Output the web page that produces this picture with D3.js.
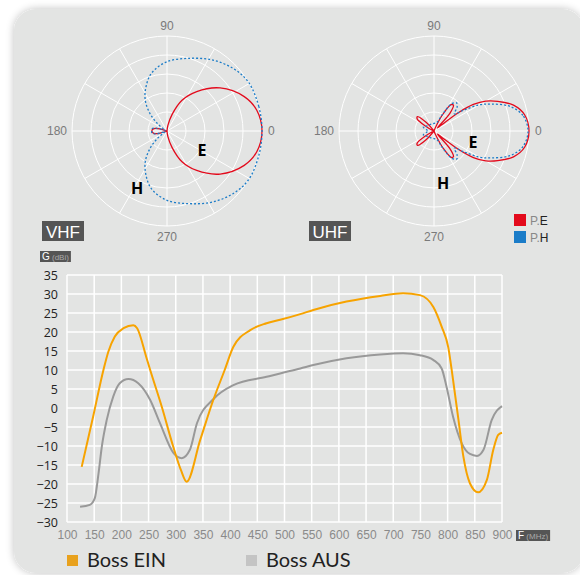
<!DOCTYPE html>
<html>
<head>
<meta charset="utf-8">
<script src="https://cdn.jsdelivr.net/npm/d3@7"></script>
<style>
  body { margin: 0; background: #fff; }
  svg { display: block; }
</style>
</head>
<body>
<div class="chart"></div>
<script>
// polar patterns, upper half only (angle in degrees, radius 0..1), mirrored below
var vhfE = [[0,1.0],[13,0.97],[24,0.89],[39,0.72],[53,0.52],[64,0.36],[73,0.18],[81,0.06],[90,0.0],[155,0.0],[163,0.07],[170,0.14],[180,0.16]];
var vhfH = [[0,1.0],[15,1.0],[31,1.0],[43,0.96],[57,0.89],[73,0.8],[90,0.73],[105,0.63],[115,0.52],[125,0.4],[134,0.26],[142,0.13],[150,0.04],[157,0.02],[165,0.12],[172,0.16],[180,0.16]];
var uhfE = [[0,1.0],[10,0.97],[18,0.88],[25,0.74],[30,0.63],[34,0.5],[37,0.32],[39,0.1],[42,0.05],[48,0.25],[53,0.34],[57,0.33],[62,0.2],[67,0.04],[80,0.0],[125,0.0],[132,0.12],[139,0.23],[144,0.22],[150,0.1],[157,0.02],[180,0.0]];
var uhfH = [[0,0.99],[10,0.95],[18,0.84],[25,0.67],[30,0.55],[35,0.38],[40,0.28],[46,0.35],[51,0.38],[57,0.34],[63,0.2],[70,0.1],[90,0.08],[120,0.08],[150,0.1],[160,0.12],[170,0.08],[180,0.06]];

// gain curves
var freqEIN = [127,148,167,176,188,204,222,229,246,253,275,295,310,320,345,369,390,406,437,467,492,529,553,614,676,718,749,774,789,801,810,820,829,841,856,872,884,893,900];
var gainEIN = [-15.5,-2.3,10,14.8,18.8,21,21.8,21,13.3,10,0,-10,-16.5,-19.4,-8.4,2.1,10,16.1,20.5,22.3,23.2,24.7,25.8,28,29.5,30.2,29.7,26.5,21.4,16.1,7.4,-3.2,-12.8,-19.8,-22.2,-19,-11,-7.1,-6.5];
var freqAUS = [124,142,151,158,164,173,185,197,213,231,253,271,296,311,326,339,369,406,467,492,529,553,614,676,718,749,774,789,798,810,826,841,854,866,881,900];
var gainAUS = [-26,-25.5,-23.8,-17.2,-10.2,-3.2,3,6.5,7.6,6.5,2.1,-4,-11.9,-13.2,-11,-4,2.3,6,8.2,9.1,10.4,11.3,13.1,14.1,14.4,13.9,12.6,10.4,5.6,-2.3,-9.3,-12.1,-12.6,-11,-3.2,0.5];

var yTicks = [35,30,25,20,15,10,5,0,-5,-10,-15,-20,-25,-30];
var xTicks = [100,150,200,250,300,350,400,450,500,550,600,650,700,750,800,850,900];
var seriesNames = ["Boss EIN", "Boss AUS"];

var W = 580, H = 575;
var svg = d3.select("div.chart").append("svg").attr("width", W).attr("height", H);

// panel with soft shadow
var defs = svg.append("defs");
var f = defs.append("filter").attr("id", "sh").attr("x", "-10%").attr("y", "-10%").attr("width", "120%").attr("height", "120%");
f.append("feGaussianBlur").attr("in", "SourceAlpha").attr("stdDeviation", 4);
f.append("feOffset").attr("dx", 0).attr("dy", 0).attr("result", "b");
f.append("feComponentTransfer").append("feFuncA").attr("type", "linear").attr("slope", 0.25);
var m = f.append("feMerge"); m.append("feMergeNode"); m.append("feMergeNode").attr("in", "SourceGraphic");

svg.append("rect").attr("x", 14).attr("y", 9).attr("width", 570).attr("height", 564)
   .attr("rx", 22).attr("fill", "#e3e4e3").attr("filter", "url(#sh)");

var R = 95;
var rScale = d3.scaleLinear().domain([0, 1]).range([0, R]);

function mirror(half) {
  var low = half.slice(1, -1).reverse().map(function(d){ return [360 - d[0], d[1]]; });
  return half.concat(low);
}

var radial = d3.lineRadial()
    .angle(function(d){ return (90 - d[0]) * Math.PI / 180; })
    .radius(function(d){ return rScale(d[1]); })
    .curve(d3.curveCatmullRomClosed.alpha(0.5));

function drawPolar(cx, cy, eData, hData, name, ePos, hPos) {
  var g = svg.append("g").attr("transform", "translate(" + cx + "," + cy + ")");
  g.selectAll(".ring").data([0.2, 0.4, 0.6, 0.8, 1.0]).enter().append("circle")
    .attr("r", rScale).attr("fill", "none").attr("stroke", "#fff").attr("stroke-width", 1);
  g.selectAll(".spoke").data(d3.range(0, 360, 30)).enter().append("line")
    .attr("x1", 0).attr("y1", 0)
    .attr("x2", function(d){ return R * Math.cos(d * Math.PI / 180); })
    .attr("y2", function(d){ return -R * Math.sin(d * Math.PI / 180); })
    .attr("stroke", "#fff").attr("stroke-width", 1);

  g.append("path").attr("d", radial(mirror(eData)))
    .attr("fill", "none").attr("stroke", "#e30a1c").attr("stroke-width", 1.3);
  g.append("path").attr("d", radial(mirror(hData)))
    .attr("fill", "none").attr("stroke", "#1b7cc8").attr("stroke-width", 1.3)
    .attr("stroke-dasharray", "2,2");

  var lab = g.append("g").attr("font-family", "Liberation Sans, Arial, sans-serif")
    .attr("font-size", 12).attr("fill", "#7a7a7a");
  lab.append("text").attr("x", 0).attr("y", -R - 6).attr("text-anchor", "middle").text("90");
  lab.append("text").attr("x", 0).attr("y", R + 15).attr("text-anchor", "middle").text("270");
  lab.append("text").attr("x", -R - 5).attr("y", 4).attr("text-anchor", "end").text("180");
  lab.append("text").attr("x", R + 6).attr("y", 4).attr("text-anchor", "start").text("0");

  g.append("text").attr("x", ePos[0]).attr("y", ePos[1]).attr("text-anchor", "middle")
    .attr("font-family", "Open Sans, sans-serif").attr("font-weight", "bold").attr("font-size", 16).text("E");
  g.append("text").attr("x", hPos[0]).attr("y", hPos[1]).attr("text-anchor", "middle")
    .attr("font-family", "Open Sans, sans-serif").attr("font-weight", "bold").attr("font-size", 16).text("H");

  // band tag
  var t = svg.append("g").attr("transform", "translate(" + (cx - 125) + "," + (cy + 90) + ")");
  t.append("rect").attr("width", 42).attr("height", 20).attr("fill", "#555");
  t.append("text").attr("x", 21).attr("y", 16.5).attr("text-anchor", "middle").attr("fill", "#fff")
    .attr("font-family", "Liberation Sans, Arial, sans-serif").attr("font-size", 17).text(name);
}

drawPolar(167, 131, vhfE, vhfH, "VHF", [35, 25], [-30, 63]);
drawPolar(434, 131, uhfE, uhfH, "UHF", [39, 17], [9, 58]);

// P.E / P.H legend
var pl = svg.append("g").attr("font-family", "Liberation Sans, Arial, sans-serif").attr("font-size", 12);
[["E", "#e30a1c"], ["H", "#1b7cc8"]].forEach(function(d, i) {
  var y = 214 + i * 17;
  pl.append("rect").attr("x", 514).attr("y", y).attr("width", 12).attr("height", 12).attr("fill", d[1]);
  var tx = pl.append("text").attr("x", 530).attr("y", y + 11);
  tx.append("tspan").attr("fill", "#888").text("P.");
  tx.append("tspan").attr("fill", "#222").text(d[0]);
});

// gain chart
var x = d3.scaleLinear().domain([100, 900]).range([67, 502]);
var y = d3.scaleLinear().domain([-30, 35]).range([522, 275]);

var grid = svg.append("g").attr("stroke", "#fff").attr("stroke-width", 1.5);
grid.selectAll(".gx").data(xTicks).enter().append("line")
  .attr("x1", x).attr("x2", x).attr("y1", y(-30)).attr("y2", y(35));
grid.selectAll(".gy").data(yTicks).enter().append("line")
  .attr("x1", x(100)).attr("x2", x(900)).attr("y1", y).attr("y2", y);

var yAxis = svg.append("g").attr("transform", "translate(" + x(100) + ",0)")
  .call(d3.axisLeft(y).tickValues(yTicks).tickSize(0).tickPadding(9));
yAxis.select(".domain").remove();
yAxis.selectAll("text").attr("font-family", "Open Sans, sans-serif").attr("font-size", 12.5).attr("fill", "#222");

var xAxis = svg.append("g").attr("transform", "translate(0," + y(-30) + ")")
  .call(d3.axisBottom(x).tickValues(xTicks).tickSize(0).tickPadding(8));
xAxis.select(".domain").remove();
xAxis.selectAll("text").attr("font-family", "Liberation Sans, Arial, sans-serif").attr("font-size", 12).attr("fill", "#8a8a8a");

var line = d3.line().curve(d3.curveMonotoneX)
  .x(function(d){ return x(d[0]); }).y(function(d){ return y(d[1]); });

svg.append("path").attr("d", line(d3.zip(freqAUS, gainAUS)))
  .attr("fill", "none").attr("stroke", "#999").attr("stroke-width", 2);
svg.append("path").attr("d", line(d3.zip(freqEIN, gainEIN)))
  .attr("fill", "none").attr("stroke", "#f7a300").attr("stroke-width", 2);

// unit tags
function tag(px, py, main, unit) {
  var g = svg.append("g").attr("transform", "translate(" + px + "," + py + ")");
  var r = g.append("rect").attr("height", 11).attr("fill", "#555");
  var t = g.append("text").attr("x", 2).attr("y", 9).attr("font-family", "Liberation Sans, Arial, sans-serif");
  t.append("tspan").attr("fill", "#fff").attr("font-size", 10).text(main);
  t.append("tspan").attr("fill", "#aaa").attr("font-size", 8).text(" " + unit);
  r.attr("width", t.node().getComputedTextLength() + 4);
}
tag(40, 251, "G", "(dBi)");
tag(516, 530, "F", "(MHz)");

// series legend
var lg = svg.append("g").attr("font-family", "Lato, sans-serif").attr("font-size", 20).attr("fill", "#222");
[["#e8a11d", 67], ["#c4c4c4", 246]].forEach(function(d, i) {
  lg.append("rect").attr("x", d[1]).attr("y", 555).attr("width", 11).attr("height", 11).attr("fill", d[0]);
  lg.append("text").attr("x", d[1] + 20).attr("y", 567).text(seriesNames[i]);
});
</script>
</body>
</html>
